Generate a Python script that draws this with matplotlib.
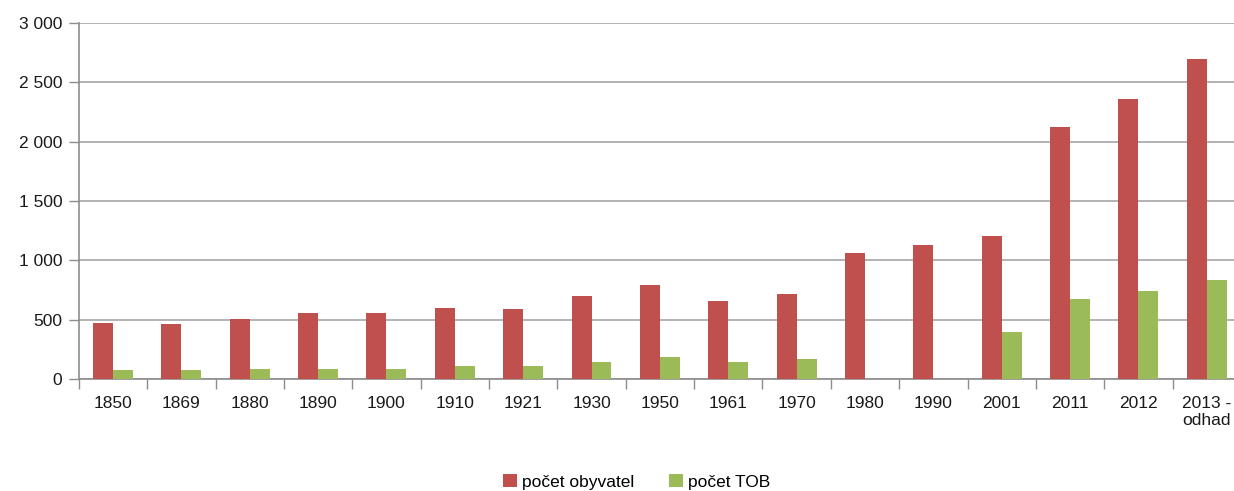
import numpy as np
import matplotlib.pyplot as plt
from matplotlib.ticker import FuncFormatter

# Data
years = ["1850", "1869", "1880", "1890", "1900", "1910", "1921", "1930", "1950",
         "1961", "1970", "1980", "1990", "2001", "2011", "2012", "2013 -\nodhad"]
obyvatel = [472, 464, 503, 559, 559, 601, 590, 702, 795,
            658, 719, 1062, 1127, 1203, 2128, 2364, 2695]
tob = [78, 78, 87, 87, 87, 106, 106, 143, 185,
       143, 171, 0, 0, 396, 677, 742, 837]

plt.rcParams["font.family"] = ["Liberation Sans", "DejaVu Sans"]

fig = plt.figure(figsize=(12.34, 4.91), dpi=100)
ax = fig.add_axes([78.8 / 1234, 112 / 491, (1241 - 78.8) / 1234, 355.8 / 491])

x = np.arange(len(years))
w = 0.292
ax.bar(x - w / 2, obyvatel, w, color="#C0504D", label="počet obyvatel", zorder=3)
ax.bar(x + w / 2, tob, w, color="#9BBB59", label="počet TOB", zorder=3)

ax.set_xlim(-0.5, len(years) - 0.5)
ax.set_ylim(0, 3000)
ax.set_yticks(np.arange(0, 3001, 500))
ax.yaxis.set_major_formatter(FuncFormatter(lambda v, p: f"{int(v):,}".replace(",", " ")))
ax.grid(axis="y", color="#a6a6a6", linewidth=1.2, zorder=0)

ax.set_xticks(np.arange(len(years) + 1) - 0.5, minor=False)
ax.set_xticklabels([])
ax.set_xticks(x, minor=True)
ax.set_xticklabels(years, minor=True)
ax.tick_params(axis="x", which="major", length=7, color="#8c8c8c", width=1)
ax.tick_params(axis="x", which="minor", length=0, pad=12, labelsize=12.5, labelcolor="#1a1a1a")
ax.tick_params(axis="y", length=7, color="#8c8c8c", width=1, pad=5, labelsize=12.5, labelcolor="#1a1a1a")

for s in ["top", "right"]:
    ax.spines[s].set_visible(False)
for s in ["left", "bottom"]:
    ax.spines[s].set_color("#8c8c8c")
    ax.spines[s].set_linewidth(1.2)

fig.legend(loc="center", bbox_to_anchor=(637 / 1234, 9 / 491), ncol=2, frameon=False,
           fontsize=12.5, handlelength=0.8, handleheight=0.8, handletextpad=0.3,
           columnspacing=2.0)

fig.savefig("out.png", dpi=100)
